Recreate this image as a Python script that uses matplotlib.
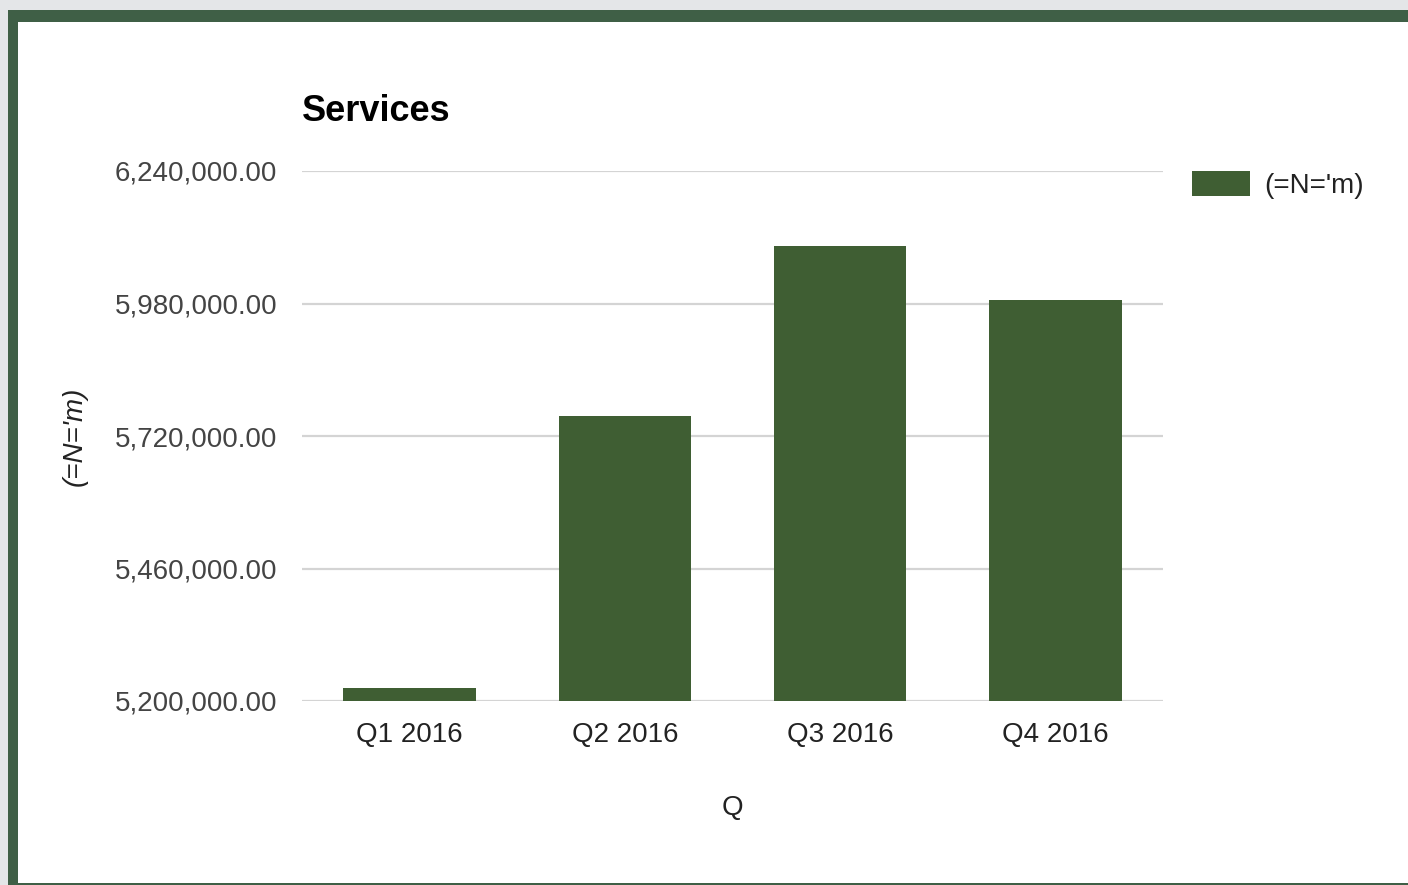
import matplotlib.pyplot as plt
from matplotlib.patches import Rectangle
from matplotlib.ticker import FuncFormatter

# data
quarters = ['Q1 2016', 'Q2 2016', 'Q3 2016', 'Q4 2016']
values = [5225000, 5759000, 6093000, 5987000]
yticks = [5200000, 5460000, 5720000, 5980000, 6240000]
series_name = "(=N='m)"

plt.rcParams['font.family'] = ['Liberation Sans', 'DejaVu Sans']

W, H = 1408, 885
fig = plt.figure(figsize=(W / 100, H / 100), dpi=100)
fig.patch.set_facecolor('#e4e6e8')

# green frame + white card
fig.add_artist(Rectangle((8 / W, 0), 1, 1 - 10 / H, transform=fig.transFigure,
                         facecolor='#3f5f46', edgecolor='none', zorder=0))
fig.add_artist(Rectangle((18 / W, 2 / H), 1, 1 - 24 / H, transform=fig.transFigure,
                         facecolor='white', edgecolor='none', zorder=0))

ax = fig.add_axes([302 / W, 1 - 701 / H, (1163 - 302) / W, (701 - 171) / H])
ax.set_facecolor('none')

x = range(len(quarters))
ax.bar(x, values, width=0.615, color='#3f5e33', label=series_name, zorder=3)

ax.set_ylim(yticks[0], yticks[-1])
ax.set_xlim(-0.5, len(quarters) - 0.5)
ax.set_yticks(yticks)
ax.yaxis.set_major_formatter(FuncFormatter(lambda v, p: f'{v:,.2f}'))
ax.set_xticks(list(x))
ax.set_xticklabels(quarters)
ax.grid(axis='y', color='#d4d4d4', linewidth=1.6, zorder=0)
ax.set_axisbelow(True)
for s in ax.spines.values():
    s.set_visible(False)
ax.tick_params(axis='y', length=0, pad=18, labelsize=20, labelcolor='#444444')
ax.tick_params(axis='x', length=0, pad=15, labelsize=20, labelcolor='#222222')

ax.set_xlabel('Q', fontsize=20, color='#222222', labelpad=34)
ax.set_ylabel(series_name, fontsize=20, color='#222222', style='italic', labelpad=19)

ax.text(0, 1.112, 'Services', transform=ax.transAxes, fontsize=26,
        fontweight='bold', color='#000000', va='center', ha='left')

fig.legend(loc='upper left', bbox_to_anchor=(1167 / W, 1 - 146 / H),
           frameon=False, fontsize=20, handlelength=2.1, handleheight=1.0,
           handletextpad=0.5, labelcolor='#222222')

fig.savefig('out.png', dpi=100, facecolor=fig.get_facecolor())
